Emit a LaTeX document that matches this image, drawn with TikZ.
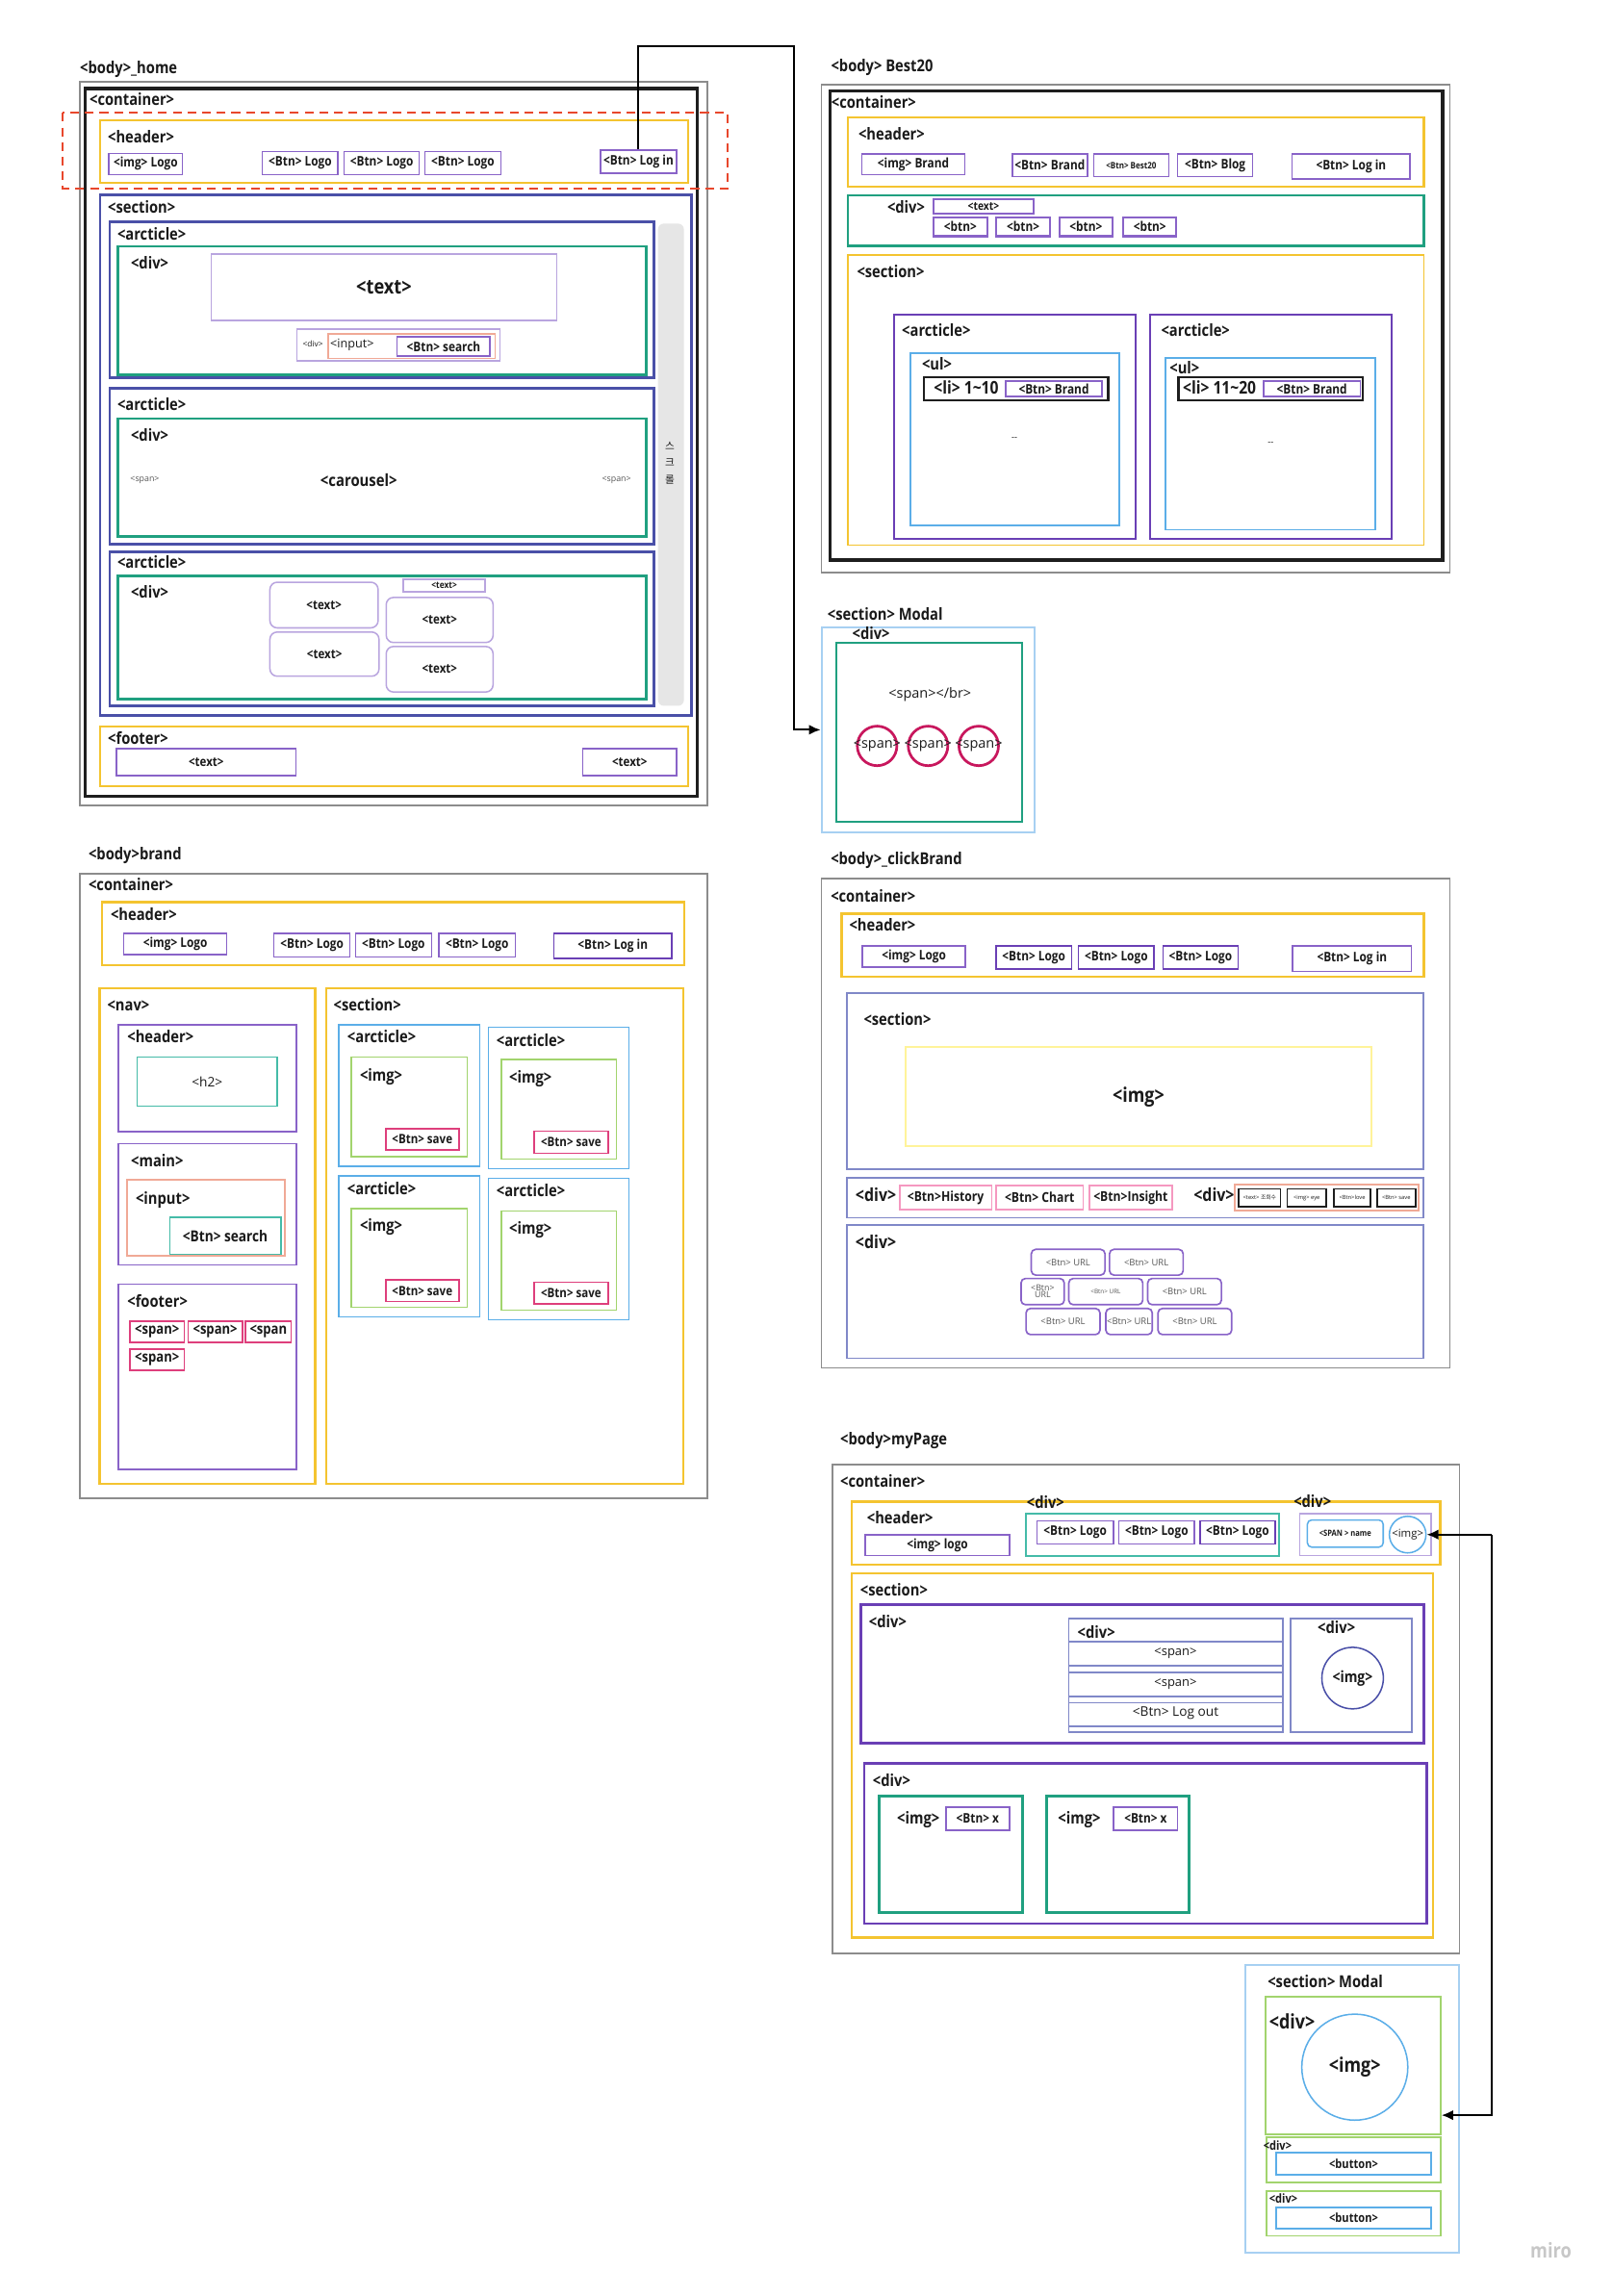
\documentclass[tikz,border=0pt]{standalone}
\usepackage{fontspec}
\setmainfont{Open Sans}[BoldFeatures={FakeStretch=0.86}]
\newfontfamily\krfont{Noto Sans CJK KR}
\usetikzlibrary{arrows.meta}
\definecolor{cgray}{HTML}{8C8C8C}
\definecolor{cblk}{HTML}{1E1E1E}
\definecolor{cyel}{HTML}{F4C430}
\definecolor{cnavy}{HTML}{4A50A8}
\definecolor{cteal}{HTML}{20A080}
\definecolor{clav}{HTML}{B9A5DF}
\definecolor{cpur}{HTML}{8963C8}
\definecolor{cdpur}{HTML}{6A3FB5}
\definecolor{csal}{HTML}{F0A996}
\definecolor{cblue}{HTML}{5BAEE8}
\definecolor{cgreen}{HTML}{A2D46E}
\definecolor{cpink}{HTML}{DE3F7C}
\definecolor{ccrim}{HTML}{C8175D}
\definecolor{clpink}{HTML}{F598C0}
\definecolor{cslate}{HTML}{8088C8}
\definecolor{cpyel}{HTML}{FFF39A}
\definecolor{cred}{HTML}{E8472C}
\definecolor{cscroll}{HTML}{E6E6E6}
\definecolor{cltteal}{HTML}{45BBA8}
\definecolor{ctext}{HTML}{1A1A1A}
\definecolor{cmblue}{HTML}{A7D0F2}
\definecolor{curl}{HTML}{555555}
\newcommand{\bx}[7]{\node[#1, minimum width={(#5-#3)*1pt}, minimum height={(#6-#4)*1pt}] (#2) at ({(#3+#5)/2},{(#4+#6)/2}) {#7};}
\newcommand{\fs}[1]{\fontsize{#1}{#1}\selectfont}
\newcommand{\fb}[1]{\bfseries\fontsize{\fpeval{1.16*#1}}{\fpeval{1.16*#1}}\selectfont}
\tikzset{
  lbl/.style={anchor=west, inner sep=0pt, text height=1.5ex, text depth=.25ex, text=ctext, font=\fb{9.7}},
  ctr/.style={inner sep=0pt, text=ctext},
  bxs/.style={inner sep=0pt, align=center, text=ctext},
  gline/.style={draw=cgray, line width=1pt},
  kline/.style={draw=cblk, line width=2.2pt},
  yline/.style={draw=cyel, line width=1.6pt},
  nline/.style={draw=cnavy, line width=1.8pt},
  tline/.style={draw=cteal, line width=1.8pt},
  pbtn/.style={bxs, draw=cpur, line width=1pt, font=\fb{7.8}},
  lavbox/.style={bxs, draw=clav, line width=1pt},
  conn/.style={draw=black, line width=1.3pt, -{Latex[length=8pt,width=7pt]}},
}
\begin{document}
\begin{tikzpicture}[x=1pt,y=-1pt]
\useasboundingbox (0,0) rectangle (1101,1568);
\fill[white] (0,0) rectangle (1101,1568);

% ================= HOME =================
\node[lbl] (hT) at (54.5,47.1) {<body>\_home};
\draw[gline] (54.5,56) rectangle (483,550);
\draw[kline] (58.2,60.5) rectangle (476,543.8);
\node[lbl] (hC) at (61,68.6) {<container>};
\draw[yline] (68.4,82.2) rectangle (470,124.9);
\node[lbl] (hH) at (73.5,94.2) {<header>};
\bx{pbtn}{hImg}{74.4}{104.7}{124.5}{119.2}{<img> Logo}
\bx{pbtn}{hB1}{179.2}{103.4}{230.8}{119.2}{<Btn> Logo}
\bx{pbtn}{hB2}{235}{103.4}{286.3}{119.2}{<Btn> Logo}
\bx{pbtn}{hB3}{290.2}{103.4}{341.9}{119.2}{<Btn> Logo}
\bx{pbtn}{hLogin}{410}{102.5}{462}{118.3}{<Btn> Log in}
\draw[cred, line width=1.3pt, dash pattern=on 6pt off 4pt] (43,77.1) rectangle (497,128.6);

\draw[nline] (68.4,133.2) rectangle (472.2,488.6);
\node[lbl] (hS) at (73.5,142.4) {<section>};
\fill[cscroll, rounded corners=4pt] (449.3,152.7) rectangle (467,482);
\node[ctr, align=center, font=\krfont\fontsize{7}{11.5}\selectfont] (hScroll) at (457.4,316) {스\\크\\롤};

\draw[nline] (75,151.6) rectangle (446.3,258.1);
\node[lbl] (hA1) at (80,160.4) {<arcticle>};
\draw[tline] (80.5,168.3) rectangle (441.2,255.9);
\node[lbl] (hD1) at (89.2,180.3) {<div>};
\bx{lavbox, font=\fb{12}}{hText}{144.2}{173.5}{380.2}{218.7}{<text>}
\draw[clav, line width=1pt] (202.7,224.6) rectangle (341.5,246.5);
\node[ctr, font=\fs{5.5}] (hSdiv) at (213.6,234.9) {<div>};
\draw[csal, line width=1pt] (224.1,227.9) rectangle (338.2,244.7);
\node[ctr, font=\fs{8.3}] (hInput) at (240.4,235.5) {<input>};
\bx{pbtn}{hSearch}{271.2}{230}{334.6}{243.2}{<Btn> search}

\draw[nline] (75,265.1) rectangle (446.3,371.4);
\node[lbl] (hA2) at (80,277.1) {<arcticle>};
\draw[tline] (80.5,285.9) rectangle (441.2,366.3);
\node[lbl] (hD2) at (89.2,298) {<div>};
\node[ctr, text=curl, font=\fs{5.8}] (hSp1) at (98.9,327.8) {<span>};
\node[ctr, text=curl, font=\fs{5.8}] (hSp2) at (421,327.8) {<span>};
\node[ctr, font=\fb{9.8}] (hCar) at (245,328) {<carousel>};

\draw[nline] (75,376.8) rectangle (446.3,482);
\node[lbl] (hA3) at (80,385) {<arcticle>};
\draw[tline] (80.5,393.3) rectangle (441.2,477.2);
\node[lbl] (hD3) at (89.2,405.3) {<div>};
\bx{lavbox, rounded corners=5pt, font=\fb{7.6}}{hTa}{184.3}{397.6}{258.2}{428.8}{<text>}
\bx{lavbox, rounded corners=5pt, font=\fb{7.6}}{hTb}{184.3}{431.6}{258.8}{461.8}{<text>}
\bx{lavbox, rounded corners=5pt, font=\fb{7.6}}{hTc}{263.7}{408}{336.7}{438.8}{<text>}
\bx{lavbox, rounded corners=5pt, font=\fb{7.6}}{hTd}{263.7}{441.5}{336.7}{472.6}{<text>}
\bx{lavbox, font=\fb{5.5}}{hTs}{275.4}{395.5}{331.3}{404.2}{<text>}

\draw[yline] (68.4,496.2) rectangle (470,536.8);
\node[lbl] (hF) at (73.5,505) {<footer>};
\bx{pbtn, font=\fb{7.6}}{hFt1}{79.6}{511.1}{202.1}{529.6}{<text>}
\bx{pbtn, font=\fb{7.6}}{hFt2}{398}{511.1}{462}{529.6}{<text>}

% ================= MODAL (top) =================
\node[lbl] (mT) at (564.9,420.2) {<section> Modal};
\bx{draw=cmblue, line width=1.3pt, inner sep=0pt}{modalA}{561}{428.3}{706.7}{568.5}{}
\node[lbl] (mD) at (581.8,433.4) {<div>};
\draw[cteal, line width=1.3pt] (570.8,439.3) rectangle (697.9,561.3);
\node[ctr, font=\fs{9.5}] (mSbr) at (635,474.3) {<span></br>};
\node[circle, draw=ccrim, line width=1.8pt, minimum size=27pt, inner sep=0pt] (mc1) at (598.9,509.4) {};
\node[circle, draw=ccrim, line width=1.8pt, minimum size=27pt, inner sep=0pt] (mc2) at (633.7,509.4) {};
\node[circle, draw=ccrim, line width=1.8pt, minimum size=27pt, inner sep=0pt] (mc3) at (668.3,509.4) {};
\node[ctr, font=\fs{9.5}] (ms1) at (mc1) {<span>};
\node[ctr, font=\fs{9.5}] (ms2) at (mc2) {<span>};
\node[ctr, font=\fs{9.5}] (ms3) at (mc3) {<span>};

\coordinate (c1) at (542,31.8);
\draw[conn] (hLogin.north) |- (c1) |- (modalA.west);

% ================= BEST20 =================
\node[lbl] (bT) at (567.3,45.6) {<body> Best20};
\draw[gline] (561,58) rectangle (990,391);
\draw[kline] (566.7,62) rectangle (985,382.4);
\node[lbl] (bC) at (567.5,70.6) {<container>};
\draw[yline] (579,80.2) rectangle (972.3,127.6);
\node[lbl] (bH) at (586,92) {<header>};
\bx{pbtn}{bImg}{588.6}{105.3}{658.7}{119.4}{<img> Brand}
\bx{pbtn}{bB1}{691.2}{105.3}{742.5}{120.5}{<Btn> Brand}
\bx{pbtn, font=\fb{5.3}}{bB2}{746.8}{105.3}{798.1}{120.5}{<Btn> Best20}
\bx{pbtn}{bB3}{804.1}{105.3}{855.4}{120.5}{<Btn> Blog}
\bx{pbtn}{bLogin}{882.2}{105.3}{962.9}{122.4}{<Btn> Log in}
\draw[tline] (579,133.4) rectangle (972.3,168);
\node[lbl] (bD) at (605.7,142.3) {<div>};
\bx{pbtn, line width=1.4pt, font=\fb{6.8}}{bTx}{637.4}{136.2}{705.8}{145.8}{<text>}
\bx{pbtn, line width=1.4pt, font=\fb{7.8}}{bb1}{637.4}{148.6}{674.1}{161.3}{<btn>}
\bx{pbtn, line width=1.4pt, font=\fb{7.8}}{bb2}{680.4}{148.6}{716.9}{161.3}{<btn>}
\bx{pbtn, line width=1.4pt, font=\fb{7.8}}{bb3}{723.4}{148.6}{759.6}{161.3}{<btn>}
\bx{pbtn, line width=1.4pt, font=\fb{7.8}}{bb4}{767}{148.6}{803.3}{161.3}{<btn>}
\draw[yline, line width=1.2pt] (579,174) rectangle (972.3,372.3);
\node[lbl] (bS) at (585,186) {<section>};
\draw[cdpur, line width=1.2pt] (610.3,214.7) rectangle (775.3,368);
\node[lbl] (bA1) at (615.7,226.6) {<arcticle>};
\draw[cblue, line width=1.2pt] (621.4,241.1) rectangle (764.2,359);
\node[lbl] (bU1) at (629.4,249.3) {<ul>};
\draw[cblk, line width=1.5pt] (630.9,257.5) rectangle (756.8,273.5);
\node[lbl, font=\fb{10.3}] (bL1) at (637.5,265.5) {<li> 1\textasciitilde10};
\bx{pbtn}{bLB1}{686.7}{260.1}{752.5}{270.9}{<Btn> Brand}
\node[ctr, font=\fs{6}] (bdd1) at (692.7,299.7) {-{}-};
\draw[cdpur, line width=1.2pt] (785.3,214.7) rectangle (950.4,368);
\node[lbl] (bA2) at (792.7,226.6) {<arcticle>};
\draw[cblue, line width=1.2pt] (796,244.2) rectangle (939.1,361.8);
\node[lbl] (bU2) at (798.5,252.1) {<ul>};
\draw[cblk, line width=1.5pt] (804.6,257.5) rectangle (930.6,273.5);
\node[lbl, font=\fb{10.3}] (bL2) at (807.5,265.5) {<li> 11\textasciitilde20};
\bx{pbtn}{bLB2}{862.8}{260.1}{928.9}{270.9}{<Btn> Brand}
\node[ctr, font=\fs{6}] (bdd2) at (867.7,302.7) {-{}-};

% ================= BRAND =================
\node[lbl] (rT) at (60.3,583.5) {<body>brand};
\draw[gline] (54.6,596.6) rectangle (483,1023.2);
\node[lbl] (rC) at (60.3,604.7) {<container>};
\draw[yline] (69.7,616.1) rectangle (467.4,659);
\node[lbl] (rH) at (75.4,624.9) {<header>};
\bx{pbtn}{rImg}{84.5}{637.6}{154.9}{651.8}{<img> Logo}
\bx{pbtn}{rB1}{187.1}{637.6}{239}{653.4}{<Btn> Logo}
\bx{pbtn}{rB2}{242.7}{637.6}{294.6}{653.4}{<Btn> Logo}
\bx{pbtn}{rB3}{299.7}{637.6}{351.9}{653.4}{<Btn> Logo}
\bx{pbtn, draw=cdpur}{rLogin}{378.1}{637.6}{458.8}{654.7}{<Btn> Log in}
\draw[yline] (68,674.9) rectangle (215.1,1013.3);
\node[lbl] (rN) at (73.1,687.3) {<nav>};
\draw[yline] (222.8,674.9) rectangle (466.5,1013.3);
\node[lbl] (rS) at (227.6,687.3) {<section>};
\draw[cpur, line width=1.1pt] (80.8,700) rectangle (202.2,772.8);
\node[lbl] (rNH) at (86.8,708.8) {<header>};
\bx{bxs, draw=cltteal, line width=1pt, font=\fs{9}}{rH2}{93.6}{722}{189.4}{755.5}{<h2>}
\draw[cpur, line width=1.1pt] (80.8,781.1) rectangle (202.2,863.9);
\node[lbl] (rM) at (89.3,793.2) {<main>};
\draw[csal, line width=1.1pt] (86.8,805.7) rectangle (194.3,857.8);
\node[lbl] (rI) at (92.5,818.8) {<input>};
\bx{bxs, draw=cltteal, line width=1.1pt, font=\fb{9}}{rSearch}{115.9}{831.5}{191.7}{856.7}{<Btn> search}
\draw[cpur, line width=1.1pt] (80.8,877) rectangle (202.2,1003.5);
\node[lbl] (rF) at (86.8,889.1) {<footer>};
\bx{bxs, draw=cpink, line width=1.1pt, font=\fb{8.6}}{rSp1}{88.8}{902.3}{125.8}{916.7}{<span>}
\bx{bxs, draw=cpink, line width=1.1pt, font=\fb{8.6}}{rSp2}{128.4}{902.3}{165.5}{916.7}{<span>}
\bx{bxs, draw=cpink, line width=1.1pt, font=\fb{8.6}}{rSp3}{167.7}{902.3}{198.8}{916.7}{<span}
\bx{bxs, draw=cpink, line width=1.1pt, font=\fb{8.6}}{rSp4}{88.8}{921.3}{125.8}{935.6}{<span>}
% articles
\draw[cblue, line width=1pt] (231.3,700) rectangle (327.7,796.4);
\node[lbl] (rA1) at (237,708.8) {<arcticle>};
\draw[cgreen, line width=1pt] (239.9,722) rectangle (319.1,789.9);
\node[lbl] (rI1) at (245.6,734.7) {<img>};
\bx{bxs, draw=cpink, line width=1.1pt, font=\fb{7.6}}{rSv1}{263.3}{770.8}{313.4}{785.5}{<Btn> save}
\draw[cblue, line width=1pt] (333.4,701.6) rectangle (429.5,798);
\node[lbl] (rA2) at (338.8,711) {<arcticle>};
\draw[cgreen, line width=1pt] (342.5,723.5) rectangle (420.9,791.4);
\node[lbl] (rI2) at (347.6,736.2) {<img>};
\bx{bxs, draw=cpink, line width=1.1pt, font=\fb{7.6}}{rSv2}{364.7}{772.4}{415.2}{787.7}{<Btn> save}
\draw[cblue, line width=1pt] (231.3,803) rectangle (327.7,899.4);
\node[lbl] (rA3) at (237,812.2) {<arcticle>};
\draw[cgreen, line width=1pt] (239.9,825.4) rectangle (319.1,892.8);
\node[lbl] (rI3) at (245.6,837.6) {<img>};
\bx{bxs, draw=cpink, line width=1.1pt, font=\fb{7.6}}{rSv3}{263.3}{874.2}{313.4}{888.9}{<Btn> save}
\draw[cblue, line width=1pt] (333.4,804.8) rectangle (429.5,901.2);
\node[lbl] (rA4) at (338.8,814) {<arcticle>};
\draw[cgreen, line width=1pt] (342.5,827) rectangle (420.9,894.6);
\node[lbl] (rI4) at (347.6,839.2) {<img>};
\bx{bxs, draw=cpink, line width=1.1pt, font=\fb{7.6}}{rSv4}{364.7}{875.7}{415.2}{890.6}{<Btn> save}

% ================= CLICK BRAND =================
\node[lbl] (kT) at (567.1,587.2) {<body>\_clickBrand};
\draw[gline] (561,600) rectangle (990,934);
\node[lbl] (kC) at (567.1,613) {<container>};
\draw[yline] (574.7,624) rectangle (972.2,667);
\node[lbl] (kH) at (579.8,632.5) {<header>};
\bx{pbtn}{kImg}{588.8}{645.9}{659.3}{660.4}{<img> Logo}
\bx{pbtn, draw=cdpur}{kB1}{680.1}{645.9}{731.7}{661.6}{<Btn> Logo}
\bx{pbtn, draw=cdpur}{kB2}{736.5}{645.9}{787.9}{661.6}{<Btn> Logo}
\bx{pbtn, draw=cdpur}{kB3}{794.1}{645.9}{845.5}{661.6}{<Btn> Logo}
\bx{pbtn}{kLogin}{882.6}{645.9}{963.8}{663.5}{<Btn> Log in}
\draw[cslate, line width=1.2pt] (578.4,678.3) rectangle (972.2,798.7);
\node[lbl] (kS) at (589.6,697) {<section>};
\bx{bxs, draw=cpyel, line width=1pt, font=\fb{11.8}}{kImgBig}{618.3}{715.1}{936.5}{782.8}{<img>}
\draw[cslate, line width=1.2pt] (578.4,804.3) rectangle (972.2,831.6);
\node[lbl, font=\fb{10.5}] (kD1) at (584,816.8) {<div>};
\bx{bxs, draw=clpink, line width=1pt, font=\fb{8}}{kHist}{614.3}{809.5}{677.2}{826.2}{<Btn>History}
\bx{bxs, draw=clpink, line width=1pt, font=\fb{8}}{kChart}{680.1}{809.5}{739.6}{826.2}{<Btn> Chart}
\bx{bxs, draw=clpink, line width=1pt, font=\fb{8}}{kIns}{743.8}{809.5}{800.3}{826.2}{<Btn>Insight}
\node[lbl, font=\fb{10.5}] (kD2) at (814.9,816.8) {<div>};
\draw[csal, line width=1.3pt] (843.2,809) rectangle (968.8,826.7);
\bx{bxs, draw=cblk, line width=1.1pt, font=\fs{3.8}}{kS1}{845.8}{811.9}{874.4}{823.9}{<text> {\krfont 조회수}}
\bx{bxs, draw=cblk, line width=1.1pt, font=\fs{3.8}}{kS2}{878.9}{811.9}{905.6}{823.9}{<img> eye}
\bx{bxs, draw=cblk, line width=1.1pt, font=\fs{3.8}}{kS3}{910.7}{811.9}{936}{823.9}{<Btn>love}
\bx{bxs, draw=cblk, line width=1.1pt, font=\fs{3.8}}{kS4}{940.2}{811.9}{966.6}{823.9}{<Btn> save}
\draw[cslate, line width=1.2pt] (578.4,836.8) rectangle (972.2,927.6);
\node[lbl, font=\fb{10.5}] (kD3) at (584,849) {<div>};
\tikzset{url/.style={bxs, draw=cpur, line width=1.1pt, rounded corners=3pt, text=curl, font=\fs{6.2}}}
\bx{url}{u1}{704.2}{853.2}{754.5}{870.8}{<Btn> URL}
\bx{url}{u2}{757.6}{853.2}{807.9}{870.8}{<Btn> URL}
\bx{url, font=\fs{5.8}}{u3}{697.2}{873.1}{726.7}{891}{<Btn>\\[-1pt]URL}
\bx{url, font=\fs{4.2}}{u4}{729.8}{873.1}{780.3}{891}{<Btn> URL}
\bx{url}{u5}{783.7}{873.1}{834}{891}{<Btn> URL}
\bx{url}{u6}{700.6}{893.6}{751.1}{911.4}{<Btn> URL}
\bx{url}{u7}{755.1}{893.6}{786.8}{911.4}{<Btn> URL}
\bx{url}{u8}{790.7}{893.6}{841}{911.4}{<Btn> URL}

% ================= MY PAGE =================
\node[lbl] (pT) at (573.6,983.7) {<body>myPage};
\draw[gline] (568.4,1000.2) rectangle (996.5,1333.9);
\node[lbl] (pC) at (573.6,1012.4) {<container>};
\draw[yline] (581.4,1025.6) rectangle (983.5,1068.6);
\node[lbl] (pH) at (591.8,1037.5) {<header>};
\bx{pbtn}{pImg}{590.9}{1048}{689.3}{1062.4}{<img> logo}
\draw[cltteal, line width=1.3pt] (700.3,1033.7) rectangle (873.6,1062.4);
\node[ctr, font=\fb{9.7}] (pDa) at (713.9,1025.6) {<div>};
\bx{pbtn}{pB1}{708.1}{1038.5}{760.2}{1054.3}{<Btn> Logo}
\bx{pbtn}{pB2}{763.9}{1038.5}{815.7}{1054.3}{<Btn> Logo}
\bx{pbtn, draw=cdpur}{pB3}{819.5}{1038.5}{870.7}{1054.3}{<Btn> Logo}
\draw[clav, line width=1.1pt] (887.5,1033.7) rectangle (977.1,1062.4);
\node[ctr, font=\fb{9.7}] (pDb) at (896.2,1024.9) {<div>};
\bx{bxs, draw=cblue, line width=1pt, rounded corners=3pt, font=\fb{5}}{pSpan}{892.7}{1038}{944.5}{1056.6}{<SPAN > name}
\node[circle, draw=cblue, line width=1pt, minimum size=25pt, inner sep=0pt, text=ctext, font=\fs{7.5}] (pAv) at (961.2,1048) {<img>};
\draw[yline] (581.4,1074.3) rectangle (978.6,1323.1);
\node[lbl] (pS) at (587.2,1086.3) {<section>};
\draw[cdpur, line width=1.8pt] (588,1095.8) rectangle (972.2,1190.5);
\node[lbl] (pD1) at (593.2,1108) {<div>};
\draw[cslate, line width=1.2pt] (729.8,1105.4) rectangle (875.9,1183.1);
\node[lbl] (pD2) at (735.6,1115.2) {<div>};
\foreach \yy in {1121,1137.7,1142,1158.7,1162.8,1179} \draw[cslate, line width=1.1pt] (729.8,\yy) -- (875.9,\yy);
\node[ctr, font=\fs{8.5}] (pSp1) at (802.7,1128.8) {<span>};
\node[ctr, font=\fs{8.5}] (pSp2) at (802.7,1149.9) {<span>};
\node[ctr, font=\fs{9}] (pOut) at (802.7,1170.2) {<Btn> Log out};
\draw[cslate, line width=1.2pt] (881.1,1105.4) rectangle (964.1,1183.1);
\node[ctr, font=\fb{9.7}] (pD3) at (912.6,1111.6) {<div>};
\node[circle, draw=cnavy, line width=1pt, minimum size=42pt, inner sep=0pt, text=ctext, font=\fb{9.2}] (pBig) at (923.6,1146) {<img>};
\draw[cdpur, line width=1.8pt] (590.1,1204.1) rectangle (974.3,1313.6);
\node[lbl] (pD4) at (595.8,1216.5) {<div>};
\draw[cteal, line width=2pt] (600.5,1226.8) rectangle (698,1306.4);
\draw[cteal, line width=2pt] (714.5,1226.8) rectangle (811.7,1306.4);
\node[ctr, font=\fb{9.7}] (pI1) at (627.1,1242.4) {<img>};
\node[ctr, font=\fb{9.7}] (pI2) at (737,1242.4) {<img>};
\bx{pbtn}{pX1}{645.9}{1234}{689.3}{1250}{<Btn> x}
\bx{pbtn}{pX2}{760.5}{1234}{804.1}{1250}{<Btn> x}

% ================= MODAL (bottom) =================
\draw[cmblue, line width=1.3pt] (850.2,1342) rectangle (996.1,1538.6);
\node[lbl] (qT) at (865.5,1354.1) {<section> Modal};
\bx{draw=cgreen, line width=1pt, inner sep=0pt}{qDiv}{864}{1363.5}{983.8}{1457.5}{}
\node[lbl, font=\fb{11.8}] (qD) at (866.5,1382.2) {<div>};
\node[circle, draw=cblue, line width=1pt, minimum size=72.4pt, inner sep=0pt, text=ctext, font=\fb{11.8}] (qImg) at (925.1,1411.7) {<img>};
\draw[cgreen, line width=1pt] (864.9,1459.7) rectangle (983.8,1490.4);
\node[lbl, font=\fb{7.3}] (qD2) at (862.5,1464.8) {<div>};
\bx{bxs, draw=cblue, line width=1.1pt, font=\fb{7.3}}{qBt1}{871.4}{1470.2}{977.2}{1485.1}{<button>}
\draw[cgreen, line width=1pt] (864.9,1496.5) rectangle (983.8,1526.8);
\node[lbl, font=\fb{7.3}] (qD3) at (866.5,1500.9) {<div>};
\bx{bxs, draw=cblue, line width=1.1pt, font=\fb{7.3}}{qBt2}{871.4}{1507.5}{977.2}{1522.2}{<button>}

\coordinate (c2) at (1018.4,1048);
\draw[conn] (c2) -- (pAv.east);
\draw[conn] (c2) |- ([yshift=13.5pt]qDiv.south east);

\node[ctr, text=black!22, font=\fb{12}] (miro) at (1059,1537) {miro};
\end{tikzpicture}
\end{document}
